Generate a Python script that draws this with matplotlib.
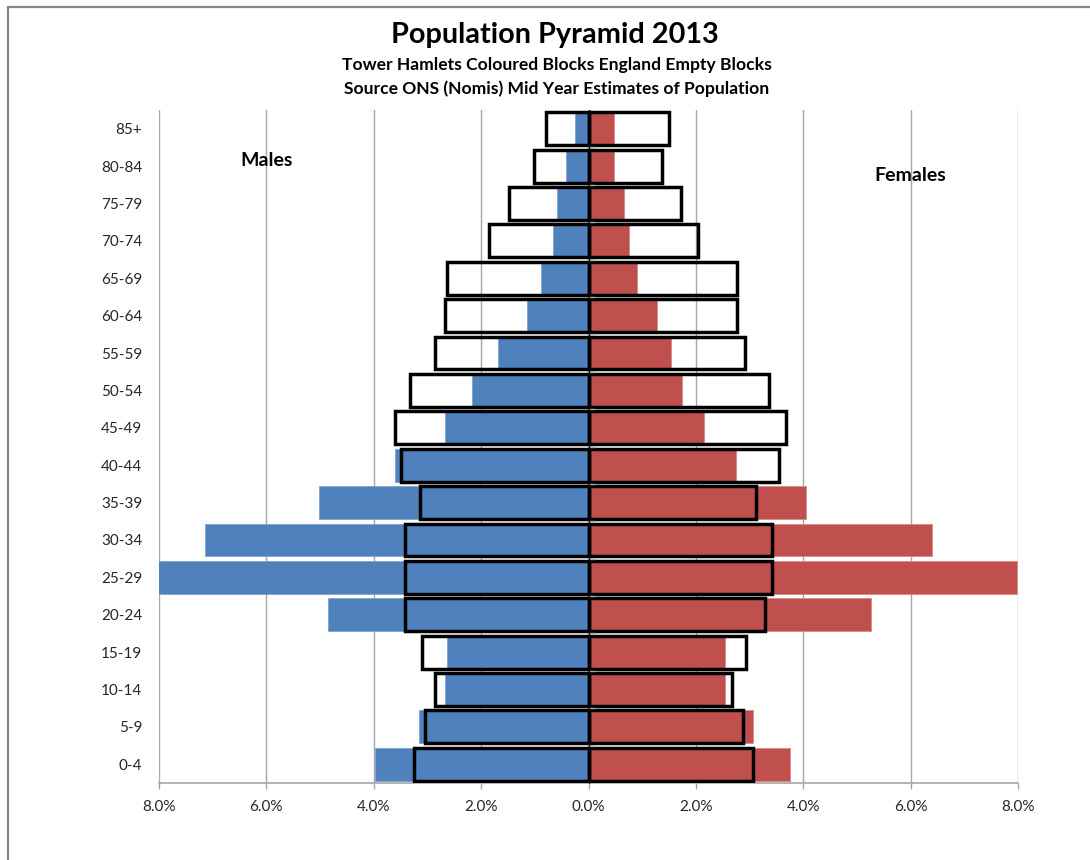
import matplotlib
matplotlib.use("Agg")
import matplotlib.pyplot as plt
from matplotlib.patches import Rectangle
from matplotlib.ticker import FuncFormatter

# Age bands, youngest first (plotted bottom to top)
ages = ["0-4", "5-9", "10-14", "15-19", "20-24", "25-29", "30-34", "35-39", "40-44",
        "45-49", "50-54", "55-59", "60-64", "65-69", "70-74", "75-79", "80-84", "85+"]

# Tower Hamlets, % of total population
th_males = [3.97, 3.15, 2.68, 2.64, 4.85, 8.02, 7.15, 5.02, 3.60,
            2.68, 2.17, 1.69, 1.14, 0.88, 0.66, 0.59, 0.42, 0.26]
th_females = [3.76, 3.06, 2.55, 2.55, 5.26, 7.98, 6.40, 4.06, 2.74,
              2.15, 1.74, 1.53, 1.28, 0.90, 0.76, 0.66, 0.47, 0.47]

# England, % of total population
eng_males = [3.25, 3.04, 2.85, 3.11, 3.41, 3.42, 3.41, 3.13, 3.50,
             3.60, 3.33, 2.85, 2.68, 2.63, 1.86, 1.48, 1.02, 0.79]
eng_females = [3.07, 2.87, 2.68, 2.94, 3.28, 3.42, 3.41, 3.12, 3.54,
               3.68, 3.37, 2.91, 2.77, 2.76, 2.04, 1.73, 1.37, 1.50]

BLUE = "#4f81bd"
RED = "#c0504d"
GRID = "#a6a6a6"
FONT = "Lato"

fig = plt.figure(figsize=(10.9, 8.6), dpi=100)
ax = fig.add_axes([159 / 1090, 1 - 783 / 860, (1018 - 159) / 1090, (783 - 110) / 860])

y = list(range(len(ages)))
h = 0.88

# Tower Hamlets as coloured blocks
ax.barh(y, [-v for v in th_males], height=h, color=BLUE, edgecolor="#7fa3d1",
        linewidth=0.6, zorder=2)
ax.barh(y, th_females, height=h, color=RED, edgecolor="#d88a88",
        linewidth=0.6, zorder=2)

# England as empty outlined blocks
ax.barh(y, [-v for v in eng_males], height=h, fill=False, edgecolor="black",
        linewidth=2.5, zorder=3)
ax.barh(y, eng_females, height=h, fill=False, edgecolor="black",
        linewidth=2.5, zorder=3)

ax.set_xlim(-8, 8)
ax.set_ylim(-0.5, len(ages) - 0.5)

ax.set_xticks(range(-8, 9, 2))
ax.xaxis.set_major_formatter(FuncFormatter(lambda v, p: f"{abs(v):.1f}%"))
ax.set_yticks(y)
ax.set_yticklabels(ages)
ax.tick_params(axis="y", length=0, pad=12, labelsize=11, labelcolor="#262626")
ax.tick_params(axis="x", length=4, width=1, color=GRID, pad=8,
               labelsize=11, labelcolor="#262626")
for lab in ax.get_xticklabels() + ax.get_yticklabels():
    lab.set_family(FONT)

ax.xaxis.grid(True, color=GRID, linewidth=1)
ax.set_axisbelow(True)
for side in ["left", "right", "top"]:
    ax.spines[side].set_visible(False)
ax.spines["bottom"].set_color(GRID)
ax.spines["bottom"].set_linewidth(1.2)

# Central category axis with ticks between age bands
mid = ax.secondary_yaxis(0.5)
mid.set_yticks([k - 0.5 for k in range(1, len(ages))])
mid.set_yticklabels([])
mid.tick_params(length=4, width=1, color=GRID)
mid.spines["left"].set_color("#7f7f7f")
mid.spines["left"].set_linewidth(1.8)
mid.set_zorder(4)

ax.text(-6.0, 16.15, "Males", ha="center", va="center", fontsize=14,
        fontweight="bold", family=FONT)
ax.text(6.0, 15.75, "Females", ha="center", va="center", fontsize=14,
        fontweight="bold", family=FONT)

fig.text(555 / 1090, 1 - 35 / 860, "Population Pyramid 2013", ha="center",
         va="center", fontsize=20.8, fontweight="bold", family=FONT)
fig.text(557 / 1090, 1 - 65 / 860, "Tower Hamlets Coloured Blocks England Empty Blocks",
         ha="center", va="center", fontsize=12.6, fontweight="bold", family=FONT)
fig.text(557 / 1090, 1 - 89 / 860, "Source ONS (Nomis) Mid Year Estimates of Population",
         ha="center", va="center", fontsize=12.6, fontweight="bold", family=FONT)

# Chart frame
fig.patches.append(Rectangle((7.5 / 1090, -0.1), 1.2, 1 - 7.5 / 860 + 0.1,
                             transform=fig.transFigure, fill=False,
                             edgecolor="#868686", linewidth=1.6))

fig.savefig("out.png", dpi=100)
